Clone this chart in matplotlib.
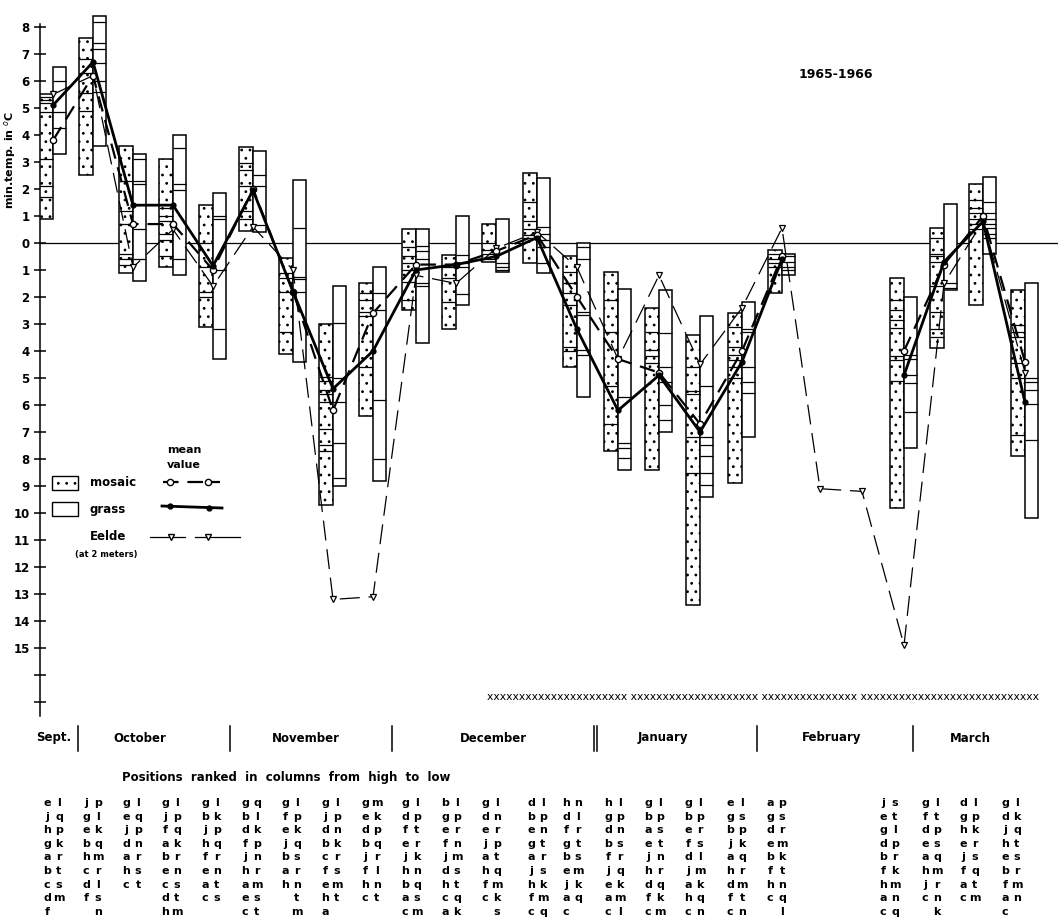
import matplotlib
matplotlib.use("Agg")
import matplotlib.pyplot as plt
from matplotlib.patches import Rectangle

plt.rcParams["hatch.linewidth"] = 0.8
plt.rcParams["font.family"] = ["DejaVu Sans"]

# ---- observation columns (position along the time strip) ----
col_x = [53, 93, 133, 173, 213, 253, 293, 333, 373, 416, 456, 496, 537, 577,
         618, 659, 700, 742, 782, 904, 944, 983, 1025]

# ranges of minimum temperature (deg C) at the sample positions
mosaic_hi = [5.5, 7.6, 3.6, 3.1, 1.4, 3.55, -0.55, -3.0, -1.5, 0.5, -0.45, 0.7,
             2.6, -0.5, -1.07, -2.4, -3.4, -2.6, -0.26, -1.3, 0.55, 2.2, -1.75]
mosaic_lo = [0.9, 2.5, -1.1, -0.9, -3.1, 0.45, -4.1, -9.7, -6.4, -2.5, -3.2, -0.7,
             -0.75, -4.6, -7.7, -8.4, -13.4, -8.9, -1.85, -9.8, -3.9, -2.3, -7.9]
grass_hi = [6.5, 8.4, 3.3, 4.0, 1.85, 3.4, 2.35, -1.6, -0.9, 0.5, 1.0, 0.9,
            2.4, 0.0, -1.7, -1.75, -2.7, -2.2, -0.4, -2.0, 1.45, 2.45, -1.5]
grass_lo = [3.3, 3.6, -1.4, -1.2, -4.3, 0.4, -4.4, -9.0, -8.8, -3.7, -2.3, -1.07,
            -1.1, -5.7, -8.4, -7.0, -9.4, -7.2, -1.2, -7.6, -1.75, -0.4, -10.2]

# individual readings drawn as rules inside each column
mosaic_levels = [
    [5.4, 5.3, 5.2, 4.85, 3.1, 2.1, 1.7],
    [6.8, 6.3, 5.55, 4.9],
    [2.3, 1.2, 0.7, -0.4, -0.6, -0.8],
    [1.3, 1.0, 0.8, 0.35, 0.1, -0.5],
    [0.0, -0.9, -1.8, -2.0],
    [2.95, 2.7, 2.1, 1.2, 0.9],
    [-1.1, -1.3, -1.8, -3.3],
    [-4.95, -5.1, -5.45, -5.6, -5.9, -6.9, -7.5, -7.7],
    [-1.85, -2.1, -2.55, -2.7, -4.6],
    [-0.15, -0.5, -0.75, -1.0, -1.45, -2.1],
    [-0.8, -0.9, -1.3, -2.2],
    [0.0, -0.25, -0.4, -0.6],
    [1.5, 0.8, 0.5, 0.3, 0.2],
    [-1.07, -1.5, -1.85, -2.3, -3.85, -4.0],
    [-2.1, -3.3, -5.3, -6.7],
    [-3.3, -3.95, -4.2, -4.45],
    [-4.6, -5.5, -5.6, -7.2, -8.5],
    [-3.1, -3.85, -4.15, -4.35, -4.6, -5.0],
    [-0.4, -0.6, -0.75, -0.9],
    [-2.1, -2.5, -2.85, -3.15, -4.2, -4.35, -5.1],
    [0.18, -0.4, -0.5, -0.7, -1.6, -2.55, -3.2, -3.5],
    [1.6, 1.3, 1.1, 0.9, 0.7, 0.5],
    [-3.05, -3.3, -3.5, -4.45, -5.0, -7.1],
]
grass_levels = [
    [6.0, 4.85, 4.25],
    [8.2, 7.4, 7.2, 6.65, 6.0, 5.6],
    [3.1, 2.3, 2.2, 0.5, -0.6],
    [3.5, 2.2, 1.95, -0.6],
    [1.0, 0.9, -1.0, -3.2],
    [2.5, 2.1, 0.67],
    [0.55, -1.25, -1.35, -1.8],
    [-2.95, -5.0, -5.9, -7.4, -8.7],
    [-1.85, -2.5, -5.8, -8.0],
    [-0.1, -0.3, -0.6, -1.5, -1.6],
    [-0.45, -0.75, -0.9, -1.9],
    [-0.75, -0.9, -1.0],
    [0.6, 0.35, 0.1, -0.15, -0.75],
    [-0.15, -0.6, -2.55, -2.65, -3.95, -4.15],
    [-5.7, -7.4, -7.6, -7.95],
    [-3.35, -4.6, -5.15, -6.0, -6.55],
    [-5.3, -7.2, -7.5, -7.9, -8.5, -8.95],
    [-3.2, -3.3, -4.6, -5.15, -5.55],
    [-0.5, -0.7, -0.9, -1.0],
    [-4.15, -4.3, -4.9, -5.2, -6.25],
    [-1.5, -1.65],
    [1.5, 1.1, 0.9, 0.7, 0.55, 0.35, 0.2],
    [-5.0, -5.15, -5.45, -5.95, -7.3],
]

# mean values
grass_mean = [5.1, 6.7, 1.4, 1.4, -0.85, 1.95, -1.8, -5.4, -4.0, -1.0, -0.8, -0.5,
              0.2, -3.2, -6.2, -4.9, -7.0, -4.4, -0.6, -4.9, -0.7, 0.8, -5.9]
mosaic_mean = [3.8, 6.2, 0.7, 0.7, -1.0, 2.0, -1.8, -6.2, -2.6, -0.8, -0.8, -0.3,
               0.3, -2.0, -4.3, -4.8, -6.7, -4.0, -0.5, -4.0, -0.8, 1.0, -4.4]
winter_break = 19  # no field readings in February

# Eelde station, screen height 2 m
eelde_x = [53, 93, 133, 173, 213, 253, 293, 333, 373, 416, 456, 496, 537, 577,
           618, 659, 700, 742, 782, 820, 862, 904, 944, 983, 1025]
eelde_min = [5.5, 6.2, -0.9, 0.5, -1.6, 0.6, -1.0, -13.2, -13.1, -1.2, -1.5, -0.2,
             0.4, -0.9, -4.3, -1.2, -4.5, -2.4, 0.55, -9.1, -9.2, -14.9, -1.5, 0.8,
             -4.8]

months = ["Sept.", "October", "November", "December", "January", "February", "March"]
month_center = [54, 140, 306, 493, 663, 832, 970]
month_edges = [78, 230, 392, 594, 597, 757, 913]

# site codes ranked from high to low (left: mosaic, right: grass)
rank_left = ["ejhgabcdf", "jgebhcdf ", "gejdahc", "gjfabecdh", "gbjhfeac",
             "gbdfjhaec", "gfejbah  ", "gjdbcfeha", "gedbjfhc", "gdfejhbac",
             "bgefjdhca", "gdejahfc ", "dbegajhfc", "hdfgbejac", "hgdbfjeac",
             "gbaejhdfc", "gbefdjahc", "egbjahdfc", "agdebfhc ", "jegdbfhac",
             "gfdeahjc ", "dghejfac", "gdjhebfac"]
rank_right = ["lqpkrtsm", "plkqmrlsn", "lqpnrst", "lpqkrnstm", "lkpqrnts",
              "qlkpnrmst", "lpkqsrntm", "lpnkrsmt", "mkpqrlnt", "lptrknqsm",
              "lprnmstqk", "lnrptqmks", "lpntrskmq", "nlrtsmkq", "lpnsrqkml",
              "lpstnrqkm", "lprslmkqn", "lspkqrmtn", "psrmktnql", "stlprkmnq",
              "ltpsqmrnk", "lpkrsqtm", "lkqtsrmn"]
letter_x = [53, 92, 132, 171, 211, 251, 291, 331, 371, 411, 451, 491, 537, 572,
            614, 654, 694, 736, 776, 889, 931, 969, 1011]

W, H = 1058, 918
fig = plt.figure(figsize=(W / 100, H / 100), dpi=100)
ax = fig.add_axes([40 / W, 1 - 715 / H, (W - 40) / W, (715 - 11) / H])
ax.set_xlim(40, 1058)
ax.set_ylim(-17.48, 8.59)
ax.patch.set_alpha(0)

bw = 13.5
ax.axhline(0, color="black", lw=0.9, zorder=1)

# column bars: mosaic stippled on the left, grass plain on the right
for i, x in enumerate(col_x):
    ax.bar(x - bw, mosaic_hi[i] - mosaic_lo[i], bottom=mosaic_lo[i], width=bw,
           align="edge", facecolor="white", edgecolor="black", lw=1.1,
           hatch="..", zorder=2)
    ax.bar(x, grass_hi[i] - grass_lo[i], bottom=grass_lo[i], width=bw,
           align="edge", facecolor="white", edgecolor="black", lw=1.1, zorder=2)
    ax.hlines(mosaic_levels[i], x - bw, x, color="black", lw=0.9, zorder=3)
    ax.hlines(grass_levels[i], x, x + bw, color="black", lw=0.9, zorder=3)

# mean curves, interrupted over February
for a, b in [(0, winter_break), (winter_break, len(col_x))]:
    ax.plot(col_x[a:b], mosaic_mean[a:b], color="black", lw=1.6,
            dashes=(7, 4), marker="o", ms=4.5, mfc="white", mec="black",
            mew=1.0, zorder=5)
    ax.plot(col_x[a:b], grass_mean[a:b], color="black", lw=2.0,
            marker="o", ms=3.5, mfc="black", mec="black", zorder=6)

ax.plot(eelde_x, eelde_min, color="black", lw=0.9, dashes=(16, 7),
        marker="v", ms=5, mfc="white", mec="black", mew=0.9, zorder=4)

# y axis: degrees below zero are written without sign
ticks = list(range(-17, 9))
labels = [str(abs(t)) if t >= -15 else "" for t in ticks]
ax.set_yticks(ticks)
ax.set_yticklabels(labels, fontweight="bold", fontsize=8.5)
ax.tick_params(axis="y", direction="inout", length=9, width=1.1, pad=3)
ax.tick_params(axis="x", bottom=False, labelbottom=False)
for s in ["top", "right", "bottom"]:
    ax.spines[s].set_visible(False)
ax.spines["left"].set_bounds(-17.5, 8.1)
ax.spines["left"].set_linewidth(1.1)
ax.set_ylabel("min.temp. in $^o$C", fontweight="bold", fontsize=8)
ax.yaxis.set_label_coords(-30 / (W - 40), (715 - 160) / (715 - 11))
ax.yaxis.label.set_ha("center")
ax.yaxis.label.set_va("center")

# overlay in figure pixels for legend, months and rank table
ov = fig.add_axes([0, 0, 1, 1])
ov.set_xlim(0, W)
ov.set_ylim(H, 0)
ov.axis("off")
ov.patch.set_alpha(0)

txt = dict(fontweight="bold", color="black")
ov.text(836, 75, "1965-1966", fontsize=9, ha="center", va="center", **txt)

# legend
ov.text(184, 450, "mean", fontsize=8, ha="center", va="center", **txt)
ov.text(184, 465, "value", fontsize=8, ha="center", va="center", **txt)
ov.add_patch(Rectangle((52, 476), 26, 14, facecolor="white", edgecolor="black",
                       lw=1.0, hatch=".."))
ov.add_patch(Rectangle((52, 502), 26, 14, facecolor="white", edgecolor="black",
                       lw=1.0))
ov.text(90, 483, "mosaic", fontsize=8.5, ha="left", va="center", **txt)
ov.text(90, 510, "grass", fontsize=8.5, ha="left", va="center", **txt)
ov.plot([163, 220], [482, 482], color="black", lw=1.6, dashes=(7, 4))
ov.plot([170, 208], [482, 482], ls="none", marker="o", ms=4.5, mfc="white",
        mec="black")
ov.plot([162, 222], [506, 508], color="black", lw=2.0)
ov.plot([170, 209], [506, 508], ls="none", marker="o", ms=3.5, color="black")
ov.text(90, 537, "Eelde", fontsize=8.5, ha="left", va="center", **txt)
ov.plot([150, 185], [537, 537], color="black", lw=0.9)
ov.plot([195, 240], [537, 537], color="black", lw=0.9)
ov.plot([171, 208], [537, 537], ls="none", marker="v", ms=5, mfc="white",
        mec="black")
ov.text(75, 555, "(at 2 meters)", fontsize=6, ha="left", va="center", **txt)

# snow cover row
snow_text = ("xxxxxxxxxxxxxxxxxxxxxx xxxxxxxxxxxxxxxxxxxx xxxxxxxxxxxxxxx "
             "xxxxxxxxxxxxxxxxxxxxxxxxxxxx")
snow = ov.text(487, 697, snow_text, fontsize=8, ha="left", va="center",
               color="black")
fig.canvas.draw()
bb = snow.get_window_extent()
snow.set_fontsize(8 * (1040 - 487) / bb.width)

# months
for name, cx in zip(months, month_center):
    ov.text(cx, 738, name, fontsize=8.5, ha="center", va="center", **txt)
for ex in month_edges:
    ov.plot([ex, ex], [726, 751], color="black", lw=1.1)

ov.text(286, 777, "Positions  ranked  in  columns  from  high  to  low",
        fontsize=8.5, ha="center", va="center", **txt)

for cx, left, right in zip(letter_x, rank_left, rank_right):
    for r, ch in enumerate(left):
        ov.text(cx - 6, 803 + 13.6 * r, ch, fontsize=8, ha="center",
                va="center", **txt)
    for r, ch in enumerate(right):
        ov.text(cx + 6, 803 + 13.6 * r, ch, fontsize=8, ha="center",
                va="center", **txt)

fig.savefig("out.png", dpi=100)
